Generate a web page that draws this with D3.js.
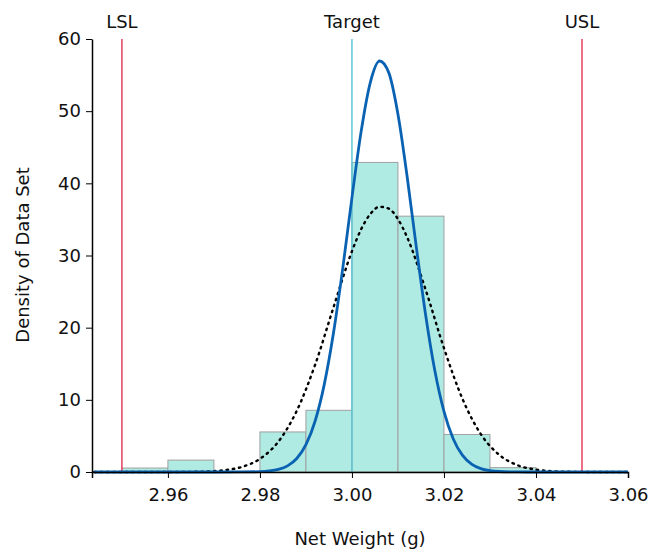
<!DOCTYPE html>
<html>
<head>
<meta charset="utf-8">
<script src="https://cdn.jsdelivr.net/npm/d3@7"></script>
<style>
  body { margin: 0; background: #fff; }
  text { font-family: "DejaVu Sans", Verdana, sans-serif; }
</style>
</head>
<body>
<div id="chart"></div>
<script>
var width = 651;
var height = 550;
var margin = {top: 39, right: 23, bottom: 78, left: 92};

// histogram bins (left edge, density)
var binStarts = [2.95, 2.96, 2.97, 2.98, 2.99, 3.00, 3.01, 3.02, 3.03];
var binWidth = 0.01;
var densities = [0.55, 1.65, 0, 5.55, 8.55, 42.9, 35.45, 5.2, 0.6];

// spec limits
var limitNames = ["LSL", "Target", "USL"];
var limitValues = [2.95, 3.00, 3.05];

// solid fitted curve
var solidX = [2.944, 2.970, 2.976, 2.980, 2.982, 2.984, 2.986, 2.988, 2.990, 2.992, 2.994, 2.996, 2.998,
              3.000, 3.002, 3.004, 3.006, 3.008, 3.010, 3.012, 3.014, 3.016, 3.018, 3.020, 3.022,
              3.024, 3.026, 3.028, 3.030, 3.032, 3.036, 3.040, 3.060];
var solidY = [0, 0, 0.01, 0.05, 0.14, 0.36, 0.85, 1.87, 3.79, 7.07, 12.18, 19.32, 28.22,
              38.02, 47.2, 54.0, 56.95, 55.34, 49.57, 40.91, 31.13, 21.83, 14.1, 8.4, 4.61,
              2.33, 1.09, 0.47, 0.18, 0.07, 0.01, 0, 0];

// dotted fitted curve
var dottedX = [2.944, 2.952, 2.960, 2.964, 2.968, 2.972, 2.976, 2.980, 2.984, 2.988, 2.992, 2.996,
               3.000, 3.002, 3.004, 3.006, 3.008, 3.010, 3.012, 3.016, 3.020, 3.024, 3.028, 3.032,
               3.036, 3.040, 3.044, 3.048, 3.052, 3.060];
var dottedY = [0, 0, 0.004, 0.017, 0.065, 0.23, 0.69, 1.82, 4.2, 8.47, 14.87, 22.84,
               30.59, 33.64, 35.76, 36.75, 36.5, 35.04, 32.52, 25.29, 17.17, 10.17, 5.26, 2.38,
               0.94, 0.32, 0.1, 0.025, 0.006, 0];

var xTicks = [2.96, 2.98, 3.00, 3.02, 3.04, 3.06];
var yTicks = [0, 10, 20, 30, 40, 50, 60];

var svg = d3.select("#chart")
  .append("svg")
    .attr("width", width)
    .attr("height", height);

var x = d3.scaleLinear()
  .domain([2.9435, 3.06])
  .range([margin.left, width - margin.right]);

var y = d3.scaleLinear()
  .domain([0, 60])
  .range([height - margin.bottom, margin.top]);

// bars
svg.selectAll("rect.bar")
  .data(densities)
  .enter()
    .append("rect")
      .attr("class", "bar")
      .attr("x", function(d, i) { return x(binStarts[i]); })
      .attr("width", function(d, i) { return x(binStarts[i] + binWidth) - x(binStarts[i]); })
      .attr("y", function(d) { return y(d); })
      .attr("height", function(d) { return y(0) - y(d); })
      .attr("fill", "#b0ebe3")
      .attr("stroke", "#a0a0a0")
      .attr("stroke-width", 1)
      .style("display", function(d) { return d > 0 ? null : "none"; });

// limit lines
var limitColors = ["#e8405e", "#5cc8d8", "#e8405e"];
svg.selectAll("line.limit")
  .data(limitValues)
  .enter()
    .append("line")
      .attr("class", "limit")
      .attr("x1", function(d) { return x(d); })
      .attr("x2", function(d) { return x(d); })
      .attr("y1", y(60))
      .attr("y2", y(0))
      .attr("stroke", function(d, i) { return limitColors[i]; })
      .attr("stroke-width", 1.5);

svg.selectAll("text.limit")
  .data(limitValues)
  .enter()
    .append("text")
      .attr("class", "limit")
      .attr("x", function(d) { return x(d); })
      .attr("y", 28)
      .attr("text-anchor", "middle")
      .style("font-size", "18px")
      .attr("fill", "#111")
      .text(function(d, i) { return limitNames[i]; });

// curves
var line = d3.line()
  .x(function(d) { return x(d[0]); })
  .y(function(d) { return y(d[1]); })
  .curve(d3.curveMonotoneX);

svg.append("path")
  .datum(d3.zip(dottedX, dottedY))
  .attr("d", line)
  .attr("fill", "none")
  .attr("stroke", "#000")
  .attr("stroke-width", 2.4)
  .attr("stroke-dasharray", "1.5,4.8")
  .attr("stroke-linecap", "round");

svg.append("path")
  .datum(d3.zip(solidX, solidY))
  .attr("d", line)
  .attr("fill", "none")
  .attr("stroke", "#0a62b2")
  .attr("stroke-width", 2.8);

// axes
var xAxis = svg.append("g")
  .attr("transform", "translate(0," + y(0) + ")")
  .call(d3.axisBottom(x).tickValues(xTicks).tickFormat(d3.format(".2f")).tickSizeOuter(6).tickPadding(10));

var yAxis = svg.append("g")
  .attr("transform", "translate(" + margin.left + ",0)")
  .call(d3.axisLeft(y).tickValues(yTicks).tickSizeOuter(0).tickPadding(5));

[xAxis, yAxis].forEach(function(g) {
  g.selectAll("text").style("font-size", "18px").attr("fill", "#111");
  g.selectAll("line").attr("stroke", "#000");
  g.select(".domain").attr("stroke", "#000").attr("stroke-width", 1.5);
});

// axis titles
svg.append("text")
  .attr("x", (margin.left + width - margin.right) / 2)
  .attr("y", 545)
  .attr("text-anchor", "middle")
  .style("font-size", "18px")
  .attr("fill", "#111")
  .text("Net Weight (g)");

svg.append("text")
  .attr("transform", "translate(28.5," + 255 + ") rotate(-90)")
  .attr("text-anchor", "middle")
  .style("font-size", "18px")
  .attr("fill", "#111")
  .text("Density of Data Set");
</script>
</body>
</html>
